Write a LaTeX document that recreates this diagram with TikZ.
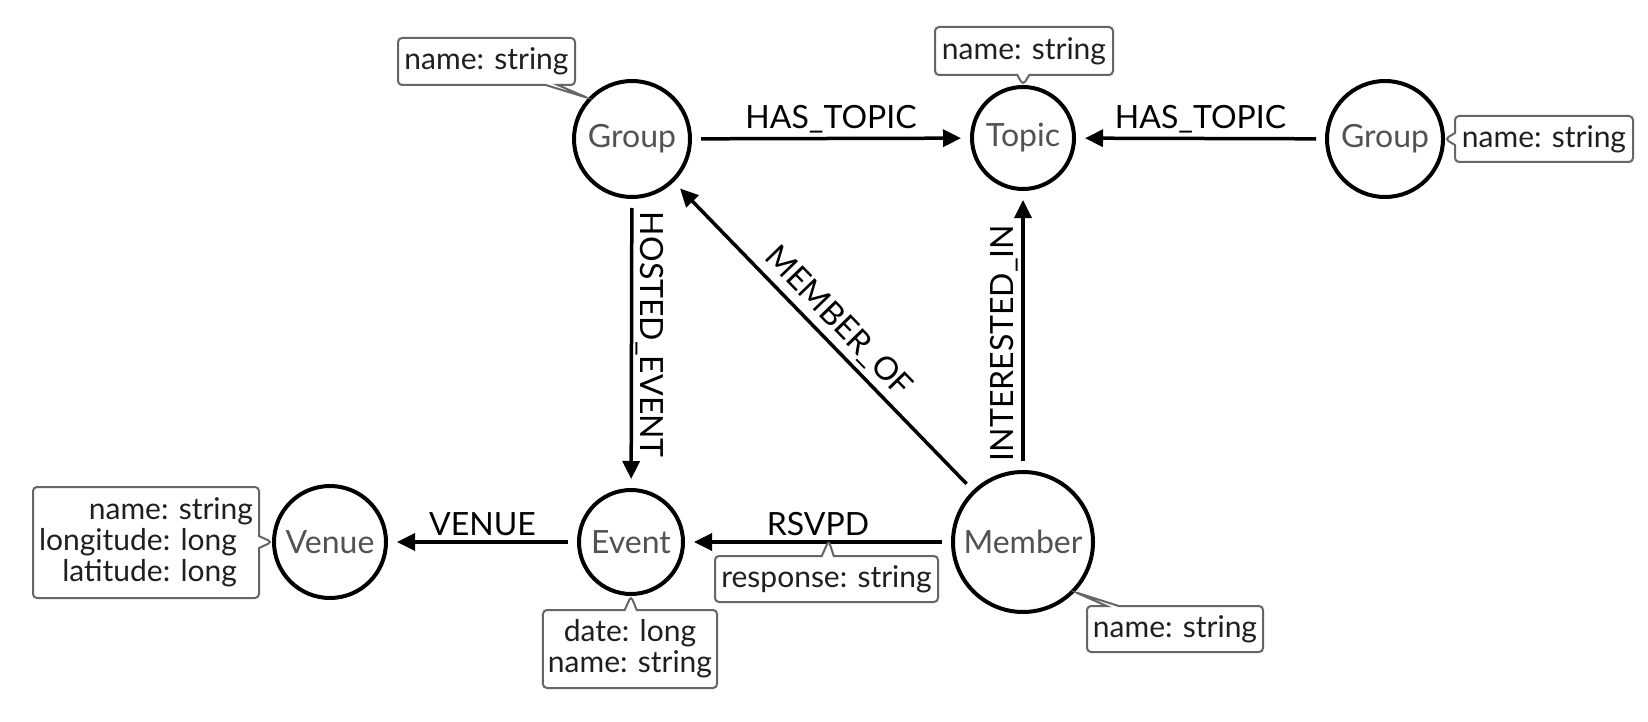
\documentclass[tikz,border=0pt]{standalone}
\usepackage{fontspec}
\setmainfont{Lato}
\usetikzlibrary{arrows.meta,shapes.callouts}
\tikzset{
  ent/.style={circle, draw=black, line width=4pt, fill=white, text=black!68,
    font=\fontsize{32}{36}\selectfont, inner sep=0pt},
  rel/.style={line width=3.5pt, -{Triangle[length=18pt,width=17pt]},
    shorten >=9pt, shorten <=9pt},
  rlab/.style={font=\fontsize{32}{36}\selectfont, text=black, inner sep=3pt},
  prop/.style={rectangle callout, rounded corners=4pt, draw=black!60, line width=2pt,
    fill=white, text=black!88, font=\fontsize{30}{31}\selectfont,
    inner xsep=5pt, inner ysep=3pt, callout pointer width=12pt}
}
\begin{document}
\begin{tikzpicture}[x=1pt, y=-1pt]
\useasboundingbox[fill=white] (0,0) rectangle (1648,722);

% entities
\node[ent, minimum size=116pt] (G1) at (632,139) {Group};
\node[ent, minimum size=102pt] (T)  at (1023,138) {Topic};
\node[ent, minimum size=116pt] (G2) at (1385,139) {Group};
\node[ent, minimum size=112pt] (V)  at (330,542) {Venue};
\node[ent, minimum size=104pt] (E)  at (631,542) {Event};
\node[ent, minimum size=140pt] (M)  at (1023,542) {Member};

% relationships
\draw[rel] (G1) -- node[rlab, midway, above=1pt] {HAS\_TOPIC} (T);
\draw[rel] (G2) -- node[rlab, midway, above=1pt] {HAS\_TOPIC} (T);
\draw[rel] (G1) -- node[rlab, pos=0.47, rotate=-90, anchor=south] {HOSTED\_EVENT} (E);
\draw[rel] (M) -- node[rlab, midway, sloped, above=2pt] {MEMBER\_OF} (G1);
\draw[rel] (M) -- node[rlab, pos=0.455, rotate=90, anchor=south] {INTERESTED\_IN} (T);
\draw[rel] (E) -- node[rlab, midway, above=1pt] {VENUE} (V);
\draw[rel] (M) -- node[rlab, midway, above=1pt] {RSVPD} coordinate[pos=0.46] (rp) (E);

% properties
\node[prop, minimum width=177pt, minimum height=47pt,
  callout absolute pointer={(G1.137)}] (g1p) at (486.5,61.5) {name: string};
\node[prop, minimum width=178pt, minimum height=48pt,
  callout absolute pointer={(T.north)}] (tp) at (1024,51) {name: string};
\node[prop, minimum width=178pt, minimum height=46pt,
  callout absolute pointer={(G2.east)}] (g2p) at (1544,139) {name: string};
\node[prop, minimum width=226pt, minimum height=111pt, align=right,
  callout absolute pointer={(V.west)}] (vp) at (146,542.5)
  {name: string\\longitude: long\kern16pt\\latitude: long\kern16pt};
\node[prop, minimum width=174pt, minimum height=78pt, align=center,
  callout absolute pointer={(E.south)}] (ep) at (630,649) {date: long\\name: string};
\node[prop, minimum width=223pt, minimum height=46pt,
  callout absolute pointer={([yshift=1.5pt]rp)}] (rpp) at (826.5,579) {response: string};
\node[prop, minimum width=176pt, minimum height=46pt,
  callout absolute pointer={(M.-44)}] (mp) at (1175,629) {name: string};
\end{tikzpicture}
\end{document}
